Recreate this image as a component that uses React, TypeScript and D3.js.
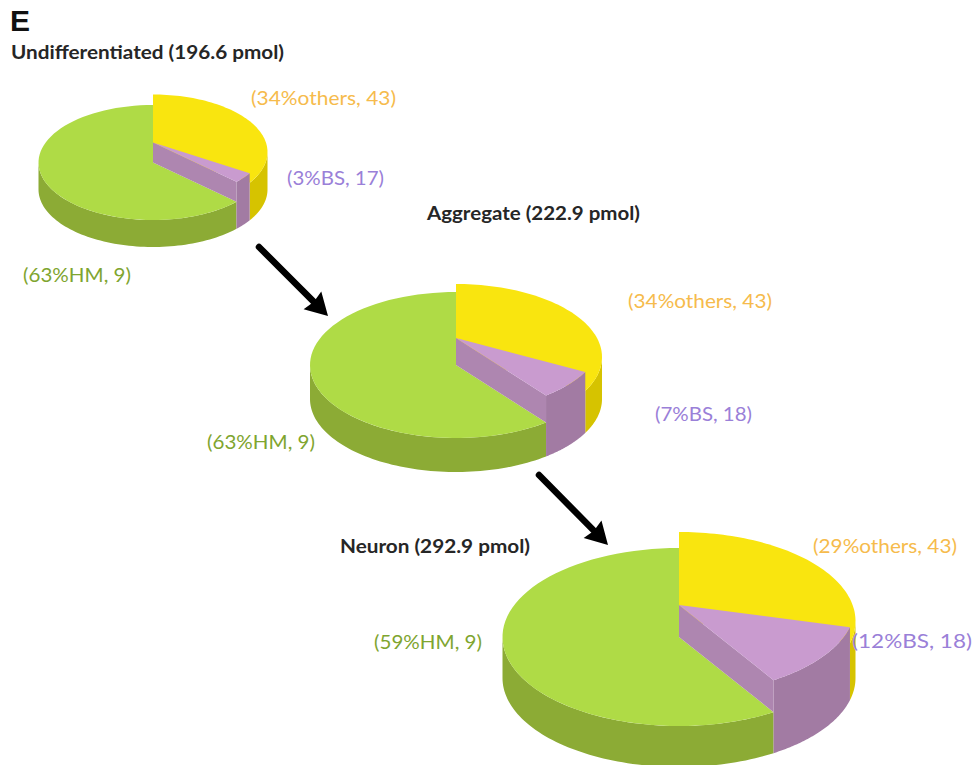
import React from "react";
import * as d3 from "d3";

// Share of each fraction per differentiation stage, with the peptide counts from the labels.
const stages = ["Undifferentiated (196.6 pmol)", "Aggregate (222.9 pmol)", "Neuron (292.9 pmol)"];
const othersPct = [34, 34, 29];
const bsPct = [3, 7, 12];
const hmPct = [63, 63, 59];
const othersCount = [43, 43, 43];
const bsCount = [17, 18, 18];
const hmCount = [9, 9, 9];

// Page placement of each pie: centre, radii, extrusion, and how far slices lift off the disc.
const layouts = [
  { cx: 153, cy: 162.5, rx: 114.5, ry: 57.5, depth: 27, liftOthers: 10.5, liftBs: 20 },
  { cx: 456, cy: 365, rx: 146, ry: 73, depth: 34, liftOthers: 8, liftBs: 27 },
  { cx: 679, cy: 637, rx: 176.5, ry: 89, depth: 41, liftOthers: 16, liftBs: 32 },
];

// Text anchors as [x, baseline, width].
const titlePlacement = [
  [11, 59, 273],
  [427, 220, 213],
  [340, 553, 190],
];
const labelPlacement = [
  { others: [251, 105, 145], bs: [287, 185, 97], hm: [23, 282, 108] },
  { others: [628, 308, 144], bs: [655, 421, 97], hm: [207, 449, 108] },
  { others: [813, 553, 144], bs: [852, 648, 120], hm: [374, 649, 108] },
];
const arrows = [
  { from: [259, 247], to: [328, 316] },
  { from: [539, 475], to: [608, 545] },
];

const GREEN = { top: "#afdb46", side: "#8cab35", text: "#7fa52f" };
const YELLOW = { top: "#f9e50f", side: "#d6c300", text: "#f6bb4c" };
const PURPLE = { top: "#c99bcf", inner: "#ae86b0", front: "#a27ba3", text: "#9a80d8" };

const LABEL_FONT = "Lato, 'Open Sans', sans-serif";

type Pt = [number, number];

function Pie3D({ index }: { index: number }) {
  const L = layouts[index];
  // Slices run clockwise from twelve o'clock, and percentages are normalised by d3.pie.
  const arcs = d3
    .pie<number>()
    .sort(null)([othersPct[index], bsPct[index], hmPct[index]]);
  const [others, bs, hm] = arcs;

  const xAt = d3.scaleLinear().domain([-1, 1]).range([L.cx - L.rx, L.cx + L.rx]);
  const yAt = d3.scaleLinear().domain([-1, 1]).range([L.cy - L.ry, L.cy + L.ry]);
  const rim = (a: number, dy = 0): Pt => [xAt(Math.sin(a)), yAt(-Math.cos(a)) + dy];
  const sweep = (a0: number, a1: number, dy = 0): Pt[] =>
    d3.range(0, 73).map((i) => rim(a0 + ((a1 - a0) * i) / 72, dy));
  const line = d3.line<Pt>();
  const closed = (pts: Pt[]) => line(pts) + "Z";
  const apex = (dy: number): Pt => [L.cx, L.cy + dy];

  const upO = -L.liftOthers;
  const upB = -L.liftBs;
  const rightPoint = Math.PI / 2;
  const leftPoint = (3 * Math.PI) / 2;

  const othersSide = closed([
    ...sweep(rightPoint, others.endAngle, upO),
    ...sweep(others.endAngle, rightPoint, L.depth),
  ]);
  const othersTop = closed([apex(upO), ...sweep(others.startAngle, others.endAngle, upO)]);
  const hmSide = closed([
    ...sweep(hm.startAngle, leftPoint, 0),
    ...sweep(leftPoint, hm.startAngle, L.depth),
  ]);
  const hmTop = closed([apex(0), ...sweep(hm.startAngle, hm.endAngle, 0)]);
  const bsFront = closed([
    ...sweep(bs.startAngle, bs.endAngle, upB),
    ...sweep(bs.endAngle, bs.startAngle, L.depth),
  ]);
  const bsInner = closed([apex(upB), rim(bs.endAngle, upB), rim(bs.endAngle, 0), apex(0)]);
  const bsTop = closed([apex(upB), ...sweep(bs.startAngle, bs.endAngle, upB)]);

  return (
    <g>
      <path d={othersSide} fill={YELLOW.side} />
      <path d={othersTop} fill={YELLOW.top} />
      <path d={hmSide} fill={GREEN.side} />
      <path d={hmTop} fill={GREEN.top} />
      <path d={bsFront} fill={PURPLE.front} />
      <path d={bsInner} fill={PURPLE.inner} />
      <path d={bsTop} fill={PURPLE.top} />
    </g>
  );
}

function Arrow({ from, to }: { from: number[]; to: number[] }) {
  const angle = (Math.atan2(to[1] - from[1], to[0] - from[0]) * 180) / Math.PI;
  const length = Math.hypot(to[0] - from[0], to[1] - from[1]);
  return (
    <g transform={`translate(${from[0]},${from[1]}) rotate(${angle})`}>
      <line x1={0} y1={0} x2={length - 14} y2={0} stroke="#000" strokeWidth={6.5} strokeLinecap="round" />
      <path d={`M${length},0L${length - 22},-12.5L${length - 20},0L${length - 22},12.5Z`} fill="#000" />
    </g>
  );
}

export default function App() {
  const label = (text: string, pos: number[], fill: string, key: string) => (
    <text
      key={key}
      x={pos[0]}
      y={pos[1]}
      textLength={pos[2]}
      lengthAdjust="spacingAndGlyphs"
      fill={fill}
      fontFamily={LABEL_FONT}
      fontSize={19.5}
    >
      {text}
    </text>
  );
  return (
    <svg
      width={976}
      height={765}
      viewBox="0 0 976 765"
      style={{ position: "absolute", left: 0, top: 0, background: "#fff" }}
    >
      <text x={10} y={31} fontFamily="'Liberation Sans', Arial, sans-serif" fontWeight={700} fontSize={30} fill="#111">
        E
      </text>
      {stages.map((_, i) => (
        <Pie3D key={i} index={i} />
      ))}
      {arrows.map((a, i) => (
        <Arrow key={i} from={a.from} to={a.to} />
      ))}
      {stages.map((s, i) => (
        <text
          key={s}
          x={titlePlacement[i][0]}
          y={titlePlacement[i][1]}
          textLength={titlePlacement[i][2]}
          lengthAdjust="spacingAndGlyphs"
          fontFamily={LABEL_FONT}
          fontWeight={700}
          fontSize={19}
          fill="#262626"
        >
          {s}
        </text>
      ))}
      {stages.map((_, i) => (
        <g key={i}>
          {label(`(${othersPct[i]}%others, ${othersCount[i]})`, labelPlacement[i].others, YELLOW.text, "o")}
          {label(`(${bsPct[i]}%BS, ${bsCount[i]})`, labelPlacement[i].bs, PURPLE.text, "b")}
          {label(`(${hmPct[i]}%HM, ${hmCount[i]})`, labelPlacement[i].hm, GREEN.text, "h")}
        </g>
      ))}
    </svg>
  );
}
